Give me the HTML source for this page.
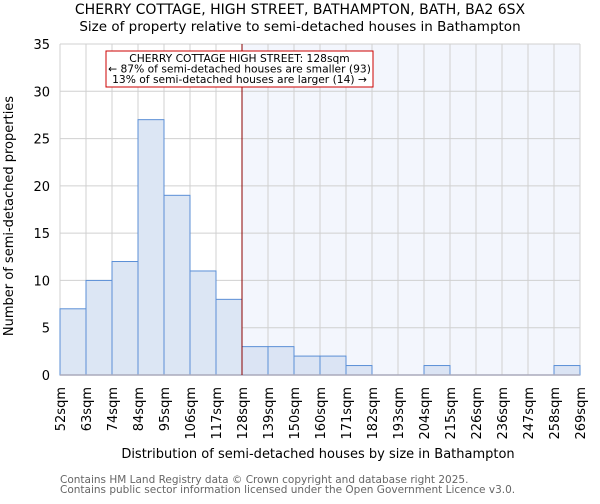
<!DOCTYPE html>
<html><head><meta charset="utf-8"><style>
body{margin:0;background:#fff;font-family:"DejaVu Sans","Liberation Sans",sans-serif}
</style></head><body>
<svg id="chart" width="600" height="500" xmlns="http://www.w3.org/2000/svg" font-family="DejaVu Sans, Liberation Sans, sans-serif">
<text x="300" y="14" text-anchor="middle" font-size="14">CHERRY COTTAGE, HIGH STREET, BATHAMPTON, BATH, BA2 6SX</text>
<text x="300" y="31" text-anchor="middle" font-size="13.5">Size of property relative to semi-detached houses in Bathampton</text>
<g id="plot"></g>
<text x="318" y="458" text-anchor="middle" font-size="13">Distribution of semi-detached houses by size in Bathampton</text>
<text transform="translate(13,216) rotate(-90)" text-anchor="middle" font-size="13">Number of semi-detached properties</text>
<text x="60" y="483" font-size="10.5" fill="#666">Contains HM Land Registry data © Crown copyright and database right 2025.</text>
<text x="60" y="493" font-size="10.5" fill="#666">Contains public sector information licensed under the Open Government Licence v3.0.</text>
</svg>
<script>
const binLabels=["52sqm","63sqm","74sqm","84sqm","95sqm","106sqm","117sqm","128sqm","139sqm","150sqm","160sqm","171sqm","182sqm","193sqm","204sqm","215sqm","226sqm","236sqm","247sqm","258sqm","269sqm"];
const counts=[7,10,12,27,19,11,8,3,3,2,2,1,0,0,1,0,0,0,0,1];
const yTicks=[0,5,10,15,20,25,30,35];
const markerIndex=7;
const NS="http://www.w3.org/2000/svg";
const g=document.getElementById('plot');
const x0=60,x1=580,yTop=44,yBot=375,yMax=35;
const bw=(x1-x0)/counts.length;
const X=i=>x0+i*bw;
const Y=v=>yBot-(v/yMax)*(yBot-yTop);
function el(t,a){const e=document.createElementNS(NS,t);for(const k in a)e.setAttribute(k,a[k]);g.appendChild(e);return e;}
let r=el('rect',{x:X(markerIndex),y:yTop,width:x1-X(markerIndex),height:yBot-yTop,fill:'#f3f6fd'});


for(let i=0;i<=counts.length;i++){const l=el('line',{x1:X(i),x2:X(i),y1:yTop,y2:yBot,stroke:'#d0d0d0','stroke-width':1});

}
yTicks.forEach(v=>{const l=el('line',{x1:x0,x2:x1,y1:Y(v),y2:Y(v),stroke:'#d0d0d0','stroke-width':1});


const t=el('text',{x:50,y:Y(v)+5,'text-anchor':'end','font-size':13});t.textContent=v;

});
counts.forEach((c,i)=>{if(c<=0)return;const b=el('rect',{x:X(i),y:Y(c),width:bw,height:yBot-Y(c),fill:i<markerIndex?'#dce6f4':'#dbe4f4',stroke:'#5b8fd6','stroke-width':1});

});
const ax=el('line',{x1:x0,x2:x1,y1:yBot,y2:yBot,stroke:'#aab','stroke-width':1.5});


binLabels.forEach((s,i)=>{const t=el('text',{transform:`translate(${X(i)+5},387) rotate(-90)`,'text-anchor':'end','font-size':13});t.textContent=s;

});
const ml=el('line',{x1:X(markerIndex),x2:X(markerIndex),y1:yTop,y2:yBot,stroke:'#8b0000','stroke-width':1});


const box=el('rect',{x:106,y:51,width:267,height:36,fill:'#fff',stroke:'#c00','stroke-width':1});


["CHERRY COTTAGE HIGH STREET: 128sqm","← 87% of semi-detached houses are smaller (93)","13% of semi-detached houses are larger (14) →"].forEach((s,i)=>{const t=el('text',{x:239.5,y:62+i*10.5,'text-anchor':'middle','font-size':10.7});t.textContent=s;

});
</script>
</body></html>
